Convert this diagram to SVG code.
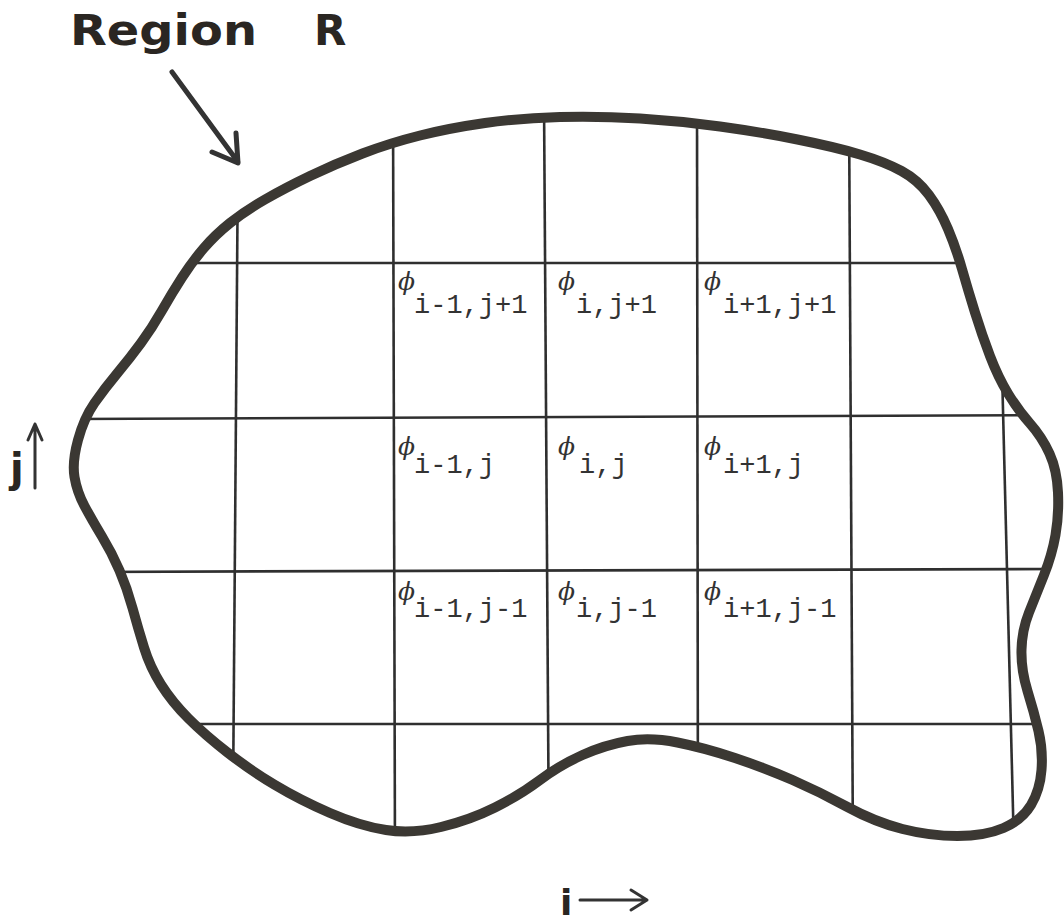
<svg xmlns="http://www.w3.org/2000/svg" width="1064" height="921" viewBox="0 0 1064 921">
<style>
.grid{stroke:#2f2f2f;stroke-width:2.6;fill:none}
.bnd{stroke:#3b3833;stroke-width:10;fill:none;stroke-linejoin:round}
.arr{stroke:#333;fill:none;stroke-linecap:round;stroke-linejoin:round}
.phi{font-family:"DejaVu Serif",serif;font-style:italic;font-size:25px;fill:#333}
.sub{font-family:"Liberation Mono",monospace;font-size:27px;fill:#333}
.bold{font-family:"DejaVu Sans",sans-serif;font-weight:bold;fill:#2a2622}
</style>
<defs>
<path id="boundary" d="M74.5,477 Q72,462 78,440 Q84,418 94.5,403 Q105,388 117.5,373 Q130,358 141,343 Q152,328 162,310.5 Q172,293 182,277.5 Q192,262 203.5,248.5 Q215,235 230,223 Q245,211 265,199.5 Q285,188 310,176 Q335,164 362.5,153.5 Q390,143 420,135.5 Q450,128 485,123 Q520,118 560,117 Q600,116 640,118.5 Q680,121 720,126.5 Q760,132 797.5,139.5 Q835,147 860,154.5 Q885,162 901.5,171 Q918,180 929,195 Q940,210 948,229 Q956,248 962,269 Q968,290 975,312.5 Q982,335 990,356 Q998,377 1008,393.5 Q1018,410 1030,423.5 Q1042,437 1049.5,453.5 Q1057,470 1058,492.5 Q1059,515 1055.5,535 Q1052,555 1044,575 Q1036,595 1029,612.5 Q1022,630 1021.5,650 Q1021,670 1027.5,691 Q1034,712 1038.5,731 Q1043,750 1041.5,770 Q1040,790 1031,805 Q1022,820 1003.5,828 Q985,836 957.5,836 Q930,836 902.5,829 Q875,822 847.5,807 Q820,792 792.5,780 Q765,768 735,758 Q705,748 677.5,742.5 Q650,737 627.5,741 Q605,745 582.5,755 Q560,765 540,780 Q520,795 495,807.5 Q470,820 441,827 Q412,834 386,830 Q360,826 330,813 Q300,800 275,785 Q250,770 227.5,752.5 Q205,735 188.5,718.5 Q172,702 161,684.5 Q150,667 144,647.5 Q138,628 132.5,608 Q127,588 119.5,570.5 Q112,553 102,536.5 Q92,520 84.5,506 Q77,492 74.5,477 Z"/>
<clipPath id="inside"><use href="#boundary"/></clipPath>
</defs>
<rect width="1064" height="921" fill="#fff"/>

<g id="title">
<text class="bold" x="70" y="45" font-size="42"><tspan textLength="187" lengthAdjust="spacingAndGlyphs">Region</tspan><tspan x="314">R</tspan></text>
<path class="arr" stroke-width="5" d="M172,72 L238,162 M212,152 L238,163 L236,133"/>
</g>

<g id="grid" clip-path="url(#inside)">
<line class="grid" x1="238" y1="150" x2="233" y2="800"/>
<line class="grid" x1="393" y1="100" x2="395" y2="860"/>
<line class="grid" x1="544" y1="100" x2="549" y2="860"/>
<line class="grid" x1="697" y1="100" x2="698" y2="860"/>
<line class="grid" x1="849" y1="100" x2="853" y2="860"/>
<line class="grid" x1="1002" y1="370" x2="1014" y2="850"/>
<line class="grid" x1="60" y1="263" x2="1064" y2="263"/>
<line class="grid" x1="60" y1="419" x2="1064" y2="415"/>
<line class="grid" x1="60" y1="572" x2="1064" y2="569"/>
<line class="grid" x1="60" y1="724" x2="1064" y2="724"/>
</g>

<g id="region-boundary">
<use href="#boundary" class="bnd"/>
</g>

<g id="labels">
<g id="phi-im1-jp1"><text class="phi" x="398" y="290">ϕ</text><text class="sub" x="414" y="313">i-1,j+1</text></g>
<g id="phi-i-jp1"><text class="phi" x="558" y="290">ϕ</text><text class="sub" x="576" y="313">i,j+1</text></g>
<g id="phi-ip1-jp1"><text class="phi" x="704" y="290">ϕ</text><text class="sub" x="723" y="313">i+1,j+1</text></g>
<g id="phi-im1-j"><text class="phi" x="398" y="455">ϕ</text><text class="sub" x="414" y="473">i-1,j</text></g>
<g id="phi-i-j"><text class="phi" x="558" y="455">ϕ</text><text class="sub" x="579" y="473">i,j</text></g>
<g id="phi-ip1-j"><text class="phi" x="704" y="455">ϕ</text><text class="sub" x="723" y="473">i+1,j</text></g>
<g id="phi-im1-jm1"><text class="phi" x="398" y="600">ϕ</text><text class="sub" x="414" y="617">i-1,j-1</text></g>
<g id="phi-i-jm1"><text class="phi" x="558" y="600">ϕ</text><text class="sub" x="576" y="617">i,j-1</text></g>
<g id="phi-ip1-jm1"><text class="phi" x="704" y="600">ϕ</text><text class="sub" x="723" y="617">i+1,j-1</text></g>
</g>

<g id="axis-j">
<text class="bold" x="10" y="482" font-size="40">j</text>
<path class="arr" stroke-width="3" d="M35,488 L35,424 M28,440 L35,424 L42,440"/>
</g>
<g id="axis-i">
<text class="bold" x="560" y="915" font-size="36">i</text>
<path class="arr" stroke-width="3" d="M580,900 L647,900 M631,890 L647,900 L631,910"/>
</g>
</svg>
